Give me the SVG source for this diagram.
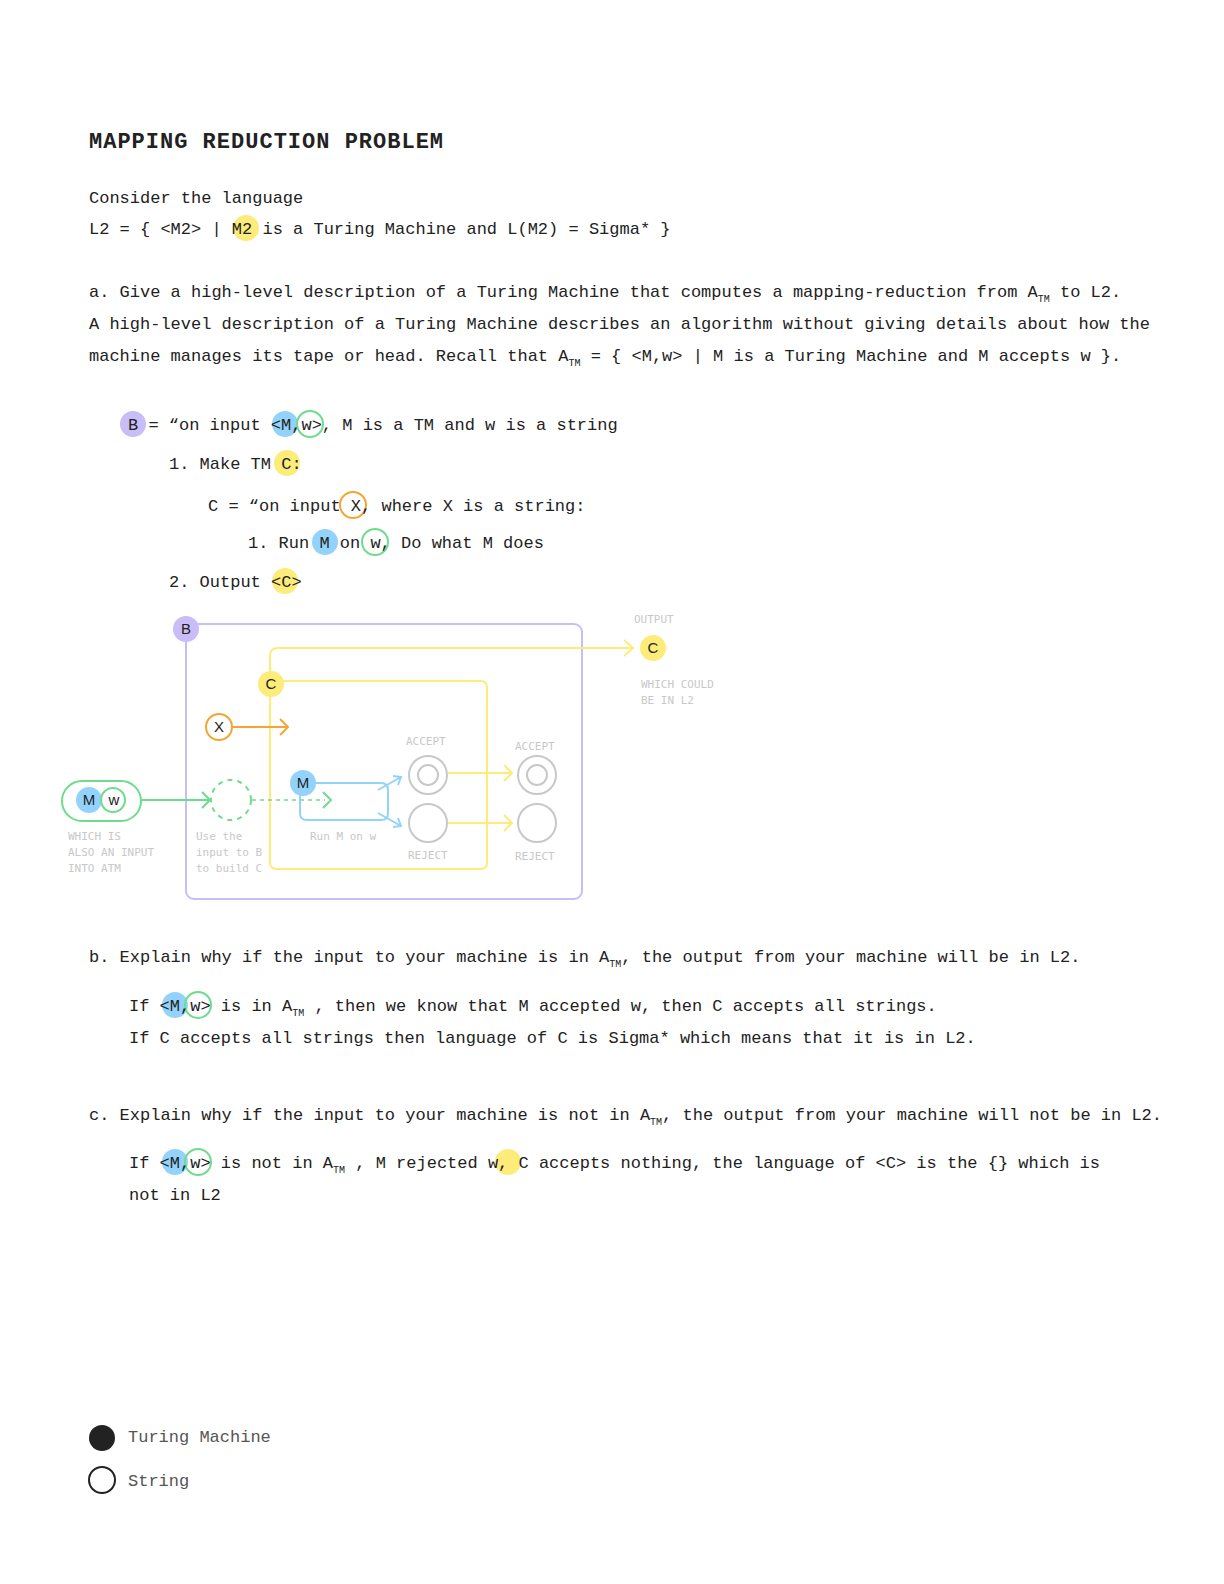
<svg xmlns="http://www.w3.org/2000/svg" width="1224" height="1584" viewBox="0 0 1224 1584">
<style>
text{font-family:"Liberation Mono","DejaVu Sans Mono",monospace;fill:#222}
.t{font-size:17px}
.sub{font-size:10px}
.lbl{font-size:11px;fill:#c8c8c8;font-family:"DejaVu Sans Mono","Liberation Mono",monospace}
.n{font-size:15px;text-anchor:middle;font-family:"Liberation Sans",sans-serif}
.y{stroke:#fdec7a;fill:none;stroke-width:2}
.g{stroke:#c8c8c8;fill:none;stroke-width:2}
</style>
<rect width="1224" height="1584" fill="#fff"/>
<text x="89" y="148" style="font-size:22px;font-weight:bold;letter-spacing:1px">MAPPING REDUCTION PROBLEM</text>
<text class="t" x="89" y="203">Consider the language</text>
<circle cx="246" cy="228" r="13" fill="#fdec7a"/>
<text class="t" x="89" y="234">L2 = { &lt;M2&gt; | M2 is a Turing Machine and L(M2) = Sigma* }</text>
<text class="t" x="89" y="297">a. Give a high-level description of a Turing Machine that computes a mapping-reduction from A<tspan class="sub" dy="5">TM</tspan><tspan dy="-5"> to L2.</tspan></text>
<text class="t" x="89" y="329">A high-level description of a Turing Machine describes an algorithm without giving details about how the</text>
<text class="t" x="89" y="361">machine manages its tape or head. Recall that A<tspan class="sub" dy="5">TM</tspan><tspan dy="-5"> = { &lt;M,w&gt; | M is a Turing Machine and M accepts w }.</tspan></text>

<g id="code">
<circle cx="133" cy="424" r="13" fill="#c9bdf7"/>
<circle cx="285" cy="424" r="13" fill="#93d3fb"/>
<circle cx="310" cy="424" r="13" fill="none" stroke="#6fdc8c" stroke-width="2"/>
<text class="t" x="128" y="430">B = “on input &lt;M,w&gt;, M is a TM and w is a string</text>
<circle cx="287" cy="463" r="13" fill="#fdec7a"/>
<text class="t" x="169" y="469">1. Make TM C:</text>
<circle cx="353" cy="505" r="13" fill="none" stroke="#f6a534" stroke-width="2"/>
<text class="t" x="208" y="511">C = “on input X, where X is a string:</text>
<circle cx="325" cy="542" r="13" fill="#93d3fb"/>
<circle cx="375" cy="542" r="13" fill="none" stroke="#6fdc8c" stroke-width="2"/>
<text class="t" x="248" y="548">1. Run M on w, Do what M does</text>
<circle cx="285" cy="581" r="13" fill="#fdec7a"/>
<text class="t" x="169" y="587">2. Output &lt;C&gt;</text>
</g>

<g id="connectors">
<rect x="186" y="624" width="396" height="275" rx="8" fill="none" stroke="#c9bdf7" stroke-width="2"/>
<rect x="270" y="681" width="217" height="188" rx="6" class="y"/>
<path d="M270 681 V656 Q270 648 278 648 H633" class="y"/>
<path d="M624 640 L633 648 L624 656" class="y"/>
<path d="M232 727 H288 M280 719 L288 727 L280 735" stroke="#f6a534" stroke-width="2" fill="none"/>
<path d="M141 800 H210 M202 792 L210 800 L202 808" stroke="#6fdc8c" stroke-width="2" fill="none"/>
<path d="M252 800 H325" stroke="#6fdc8c" stroke-width="1.5" stroke-dasharray="4 4" fill="none"/>
<path d="M323 792 L331 800 L323 808" stroke="#6fdc8c" stroke-width="2" fill="none"/>
<path d="M303 783 H381 Q388 783 388 790 V813 Q388 820 381 820 H307 Q300 820 300 813 V795" stroke="#93d3fb" stroke-width="2" fill="none"/>
<path d="M378 790 L401 777 M393 776 L401 777 L398 785 M378 813 L401 826 M393 827 L401 826 L398 818" stroke="#93d3fb" stroke-width="2" fill="none"/>
<path d="M448 773 H512 M504 765 L512 773 L504 781 M448 823 H512 M504 815 L512 823 L504 831" class="y"/>
</g>

<g id="nodes">
<circle cx="186" cy="629" r="13" fill="#c9bdf7"/><text class="n" x="186" y="634">B</text>
<circle cx="271" cy="684" r="13" fill="#fdec7a"/><text class="n" x="271" y="689">C</text>
<circle cx="653" cy="648" r="13" fill="#fdec7a"/><text class="n" x="653" y="653">C</text>
<circle cx="219" cy="727" r="13" fill="#fff" stroke="#f6a534" stroke-width="2"/><text class="n" x="219" y="732">X</text>
<rect x="62" y="781" width="79" height="40" rx="20" fill="none" stroke="#6fdc8c" stroke-width="2"/>
<circle cx="89" cy="800" r="13" fill="#93d3fb"/><text class="n" x="89" y="805">M</text>
<circle cx="113" cy="800" r="12" fill="#fff" stroke="#6fdc8c" stroke-width="2"/><text class="n" x="114" y="805">w</text>
<circle cx="231" cy="800" r="20" fill="none" stroke="#6fdc8c" stroke-width="2" stroke-dasharray="5 5"/>
<circle cx="303" cy="783" r="13" fill="#93d3fb"/><text class="n" x="303" y="788">M</text>
<circle cx="428" cy="775" r="19" class="g"/><circle cx="428" cy="775" r="10" class="g"/>
<circle cx="428" cy="823" r="19" class="g"/>
<circle cx="537" cy="775" r="19" class="g"/><circle cx="537" cy="775" r="10" class="g"/>
<circle cx="537" cy="823" r="19" class="g"/>
<text class="lbl" x="634" y="623">OUTPUT</text>
<text class="lbl" x="641" y="688">WHICH COULD</text>
<text class="lbl" x="641" y="704">BE IN L2</text>
<text class="lbl" x="406" y="745">ACCEPT</text>
<text class="lbl" x="515" y="750">ACCEPT</text>
<text class="lbl" x="408" y="859">REJECT</text>
<text class="lbl" x="515" y="860">REJECT</text>
<text class="lbl" x="310" y="840">Run M on w</text>
<text class="lbl" x="196" y="840">Use the</text>
<text class="lbl" x="196" y="856">input to B</text>
<text class="lbl" x="196" y="872">to build C</text>
<text class="lbl" x="68" y="840">WHICH IS</text>
<text class="lbl" x="68" y="856">ALSO AN INPUT</text>
<text class="lbl" x="68" y="872">INTO ATM</text>
</g>

<text class="t" x="89" y="962">b. Explain why if the input to your machine is in A<tspan class="sub" dy="5">TM</tspan><tspan dy="-5">, the output from your machine will be in L2.</tspan></text>
<circle cx="175" cy="1005" r="13" fill="#93d3fb"/>
<circle cx="198" cy="1005" r="13" fill="none" stroke="#6fdc8c" stroke-width="2"/>
<text class="t" x="129" y="1011">If &lt;M,w&gt; is in A<tspan class="sub" dy="5">TM</tspan><tspan dy="-5"> , then we know that M accepted w, then C accepts all strings.</tspan></text>
<text class="t" x="129" y="1043">If C accepts all strings then language of C is Sigma* which means that it is in L2.</text>

<text class="t" x="89" y="1120">c. Explain why if the input to your machine is not in A<tspan class="sub" dy="5">TM</tspan><tspan dy="-5">, the output from your machine will not be in L2.</tspan></text>
<circle cx="175" cy="1162" r="13" fill="#93d3fb"/>
<circle cx="198" cy="1162" r="13" fill="none" stroke="#6fdc8c" stroke-width="2"/>
<circle cx="508" cy="1162" r="13" fill="#fdec7a"/>
<text class="t" x="129" y="1168">If &lt;M,w&gt; is not in A<tspan class="sub" dy="5">TM</tspan><tspan dy="-5"> , M rejected w, C accepts nothing, the language of &lt;C&gt; is the {} which is</tspan></text>
<text class="t" x="129" y="1200">not in L2</text>

<g id="legend">
<circle cx="102" cy="1438" r="13" fill="#222"/>
<text class="t" x="128" y="1442" style="fill:#555">Turing Machine</text>
<circle cx="102" cy="1480" r="13" fill="none" stroke="#222" stroke-width="2"/>
<text class="t" x="128" y="1486" style="fill:#555">String</text>
</g>
</svg>
